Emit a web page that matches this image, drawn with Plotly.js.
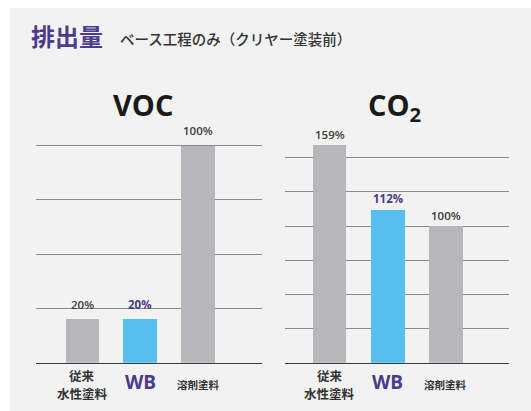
<!DOCTYPE html>
<html>
<head>
<meta charset="utf-8">
<script src="https://cdn.plot.ly/plotly-3.0.1.min.js"></script>
<style>html,body{margin:0;padding:0;background:#fff;}#chart{width:531px;height:411px;}</style>
</head>
<body>
<div id="chart"></div>
<script>
// ---- data ----
const categories = ["従来<br>水性塗料", "WB", "溶剤塗料"];
const vocValues = [20, 20, 100];
const co2Values = [159, 112, 100];
const vocLabels = ["20%", "20%", "100%"];
const co2Labels = ["159%", "112%", "100%"];
const chartTitles = ["VOC", "CO<sub>2</sub>"];
const mainTitle = "排出量";
const subTitle = "ベース工程のみ（クリヤー塗装前）";

// ---- styles ----
const FONT = "Open Sans, Noto Sans CJK JP, sans-serif";
const JFONT = "Noto Sans CJK JP, sans-serif";
const GRAY = "#b7b7bb";
const BLUE = "#56bff0";
const PURPLE = "#4a3b8c";
const barColors = [GRAY, BLUE, GRAY];
const labelColors = ["#3a3a3a", PURPLE, "#3a3a3a"];
const W = 531, H = 411;
const px = v => v / W;
const py = v => 1 - v / H;
const xs = [0, 1, 2];

const traces = [
  {type: "bar", x: xs, y: vocValues, xaxis: "x", yaxis: "y", width: 0.58,
   marker: {color: barColors}, hoverinfo: "skip", showlegend: false},
  {type: "bar", x: xs, y: co2Values, xaxis: "x2", yaxis: "y2", width: 0.58,
   marker: {color: barColors}, hoverinfo: "skip", showlegend: false}
];

const annotations = [];
// main titles
annotations.push({xref: "paper", yref: "paper", x: px(29), y: py(35.5), xanchor: "left", yanchor: "middle",
  text: mainTitle, showarrow: false, font: {family: JFONT, size: 24, weight: 700, color: PURPLE}});
annotations.push({xref: "paper", yref: "paper", x: px(118), y: py(38.5), xanchor: "left", yanchor: "middle",
  text: subTitle, showarrow: false, font: {family: JFONT, size: 14.5, weight: 500, color: "#333"}});
// chart titles
annotations.push({xref: "paper", yref: "paper", x: px(143), y: py(104), xanchor: "center", yanchor: "middle",
  text: chartTitles[0], showarrow: false, font: {family: FONT, size: 29, weight: 700, color: "#1a1a1a"}});
annotations.push({xref: "paper", yref: "paper", x: px(394), y: py(106), xanchor: "center", yanchor: "middle",
  text: chartTitles[1], showarrow: false, font: {family: FONT, size: 29, weight: 700, color: "#1a1a1a"}});

function addLabels(xa, ya, values, labels, shift) {
  values.forEach((v, i) => {
    annotations.push({xref: xa, yref: ya, x: xs[i], y: v, yanchor: "middle", yshift: shift,
      text: labels[i], showarrow: false,
      font: {family: FONT, size: 11.5, weight: i === 1 ? 700 : 600, color: labelColors[i]}});
  });
  categories.forEach((c, i) => {
    let f;
    if (i === 1) f = {family: FONT, size: 19, weight: 700, color: PURPLE};
    else if (i === 0) f = {family: JFONT, size: 12.5, weight: 700, color: "#333"};
    else f = {family: JFONT, size: 10.5, weight: 700, color: "#333"};
    const lines = c.split("<br>");
    const centre = i === 1 ? 382 : 384;
    const lh = 18;
    lines.forEach((ln, k) => {
      const yc = centre + (k - (lines.length - 1) / 2) * lh;
      annotations.push({xref: xa, yref: "paper", x: xs[i], y: py(yc), yanchor: "middle",
        text: ln, showarrow: false, font: f});
    });
  });
}
addLabels("x", "y", vocValues, vocLabels, 15);
addLabels("x2", "y2", co2Values, co2Labels, 11);

const yBase = 362.7;
const vocTop = 125, co2Top = 128;
const layout = {
  width: W, height: H,
  margin: {l: 0, r: 0, t: 0, b: 0},
  paper_bgcolor: "#ffffff",
  plot_bgcolor: "rgba(0,0,0,0)",
  bargap: 0,
  font: {family: FONT},
  shapes: [{type: "rect", xref: "paper", yref: "paper", x0: px(10), x1: 1, y0: 0, y1: py(8),
    fillcolor: "#f2f2f2", line: {width: 0}, layer: "below"}],
  xaxis: {domain: [px(36), px(262)], range: [-0.80, 3.106], showticklabels: false, ticks: "",
    showgrid: false, zeroline: false, showline: true, linecolor: "#3a3a3a", linewidth: 1.5, fixedrange: true},
  yaxis: {domain: [py(yBase), py(vocTop)], range: [0, (yBase - vocTop) / 217 * 100], dtick: 25,
    showticklabels: false, ticks: "", showgrid: true, gridcolor: "#8a8a8a", gridwidth: 1,
    zeroline: false, showline: false, fixedrange: true},
  xaxis2: {domain: [px(285), px(509)], range: [-0.764, 3.082], anchor: "y2", showticklabels: false, ticks: "",
    showgrid: false, zeroline: false, showline: true, linecolor: "#3a3a3a", linewidth: 1.5, fixedrange: true},
  yaxis2: {domain: [py(yBase), py(co2Top)], range: [0, (yBase - co2Top) / 136.7 * 100], dtick: 25, anchor: "x2",
    showticklabels: false, ticks: "", showgrid: true, gridcolor: "#8a8a8a", gridwidth: 1,
    zeroline: false, showline: false, fixedrange: true},
  annotations: annotations
};

Plotly.newPlot("chart", traces, layout, {staticPlot: true, displayModeBar: false});
</script>
</body>
</html>
